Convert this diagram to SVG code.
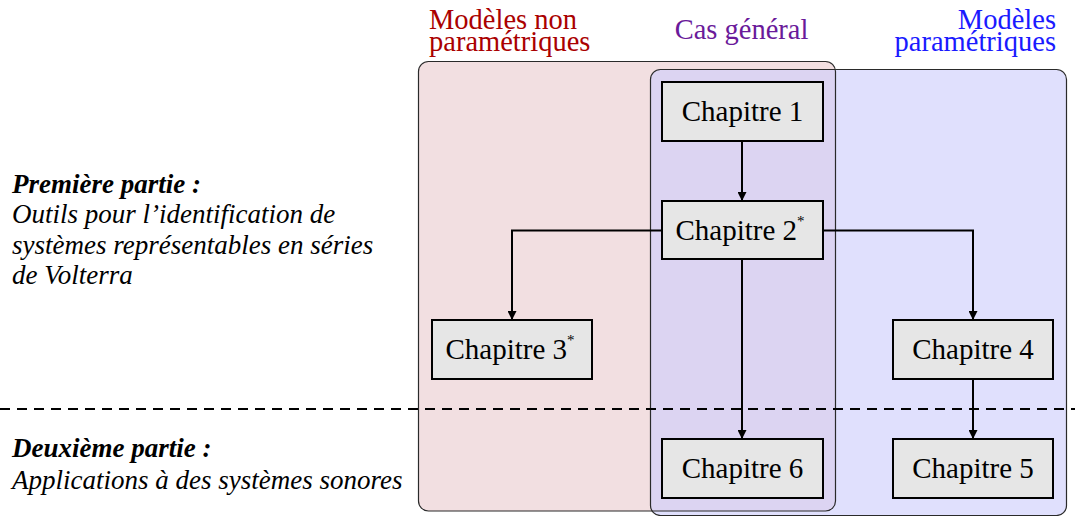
<svg xmlns="http://www.w3.org/2000/svg" width="1075" height="516" viewBox="0 0 1075 516">
<style>
.node rect{fill:#e6e6e6;stroke:#000;stroke-width:2}
.node text{font-family:"Liberation Serif","Times New Roman",serif;font-size:29px;fill:#000;text-anchor:middle}
.sup{font-size:15px}
.conn path{fill:none;stroke:#000;stroke-width:2}
.side{font-family:"Liberation Serif","Times New Roman",serif;font-size:27px;font-style:italic;fill:#000}
.hdr{font-family:"Liberation Serif","Times New Roman",serif;font-size:28.5px}
.border{fill:none;stroke:#2a2a2a;stroke-width:1.2}
</style>
<defs>
<marker id="arr" viewBox="0 0 10 10" refX="10" refY="5" markerWidth="10" markerHeight="9" markerUnits="userSpaceOnUse" orient="auto">
<path d="M0,0 L10,5 L0,10 z" fill="#000"/>
</marker>
<clipPath id="redclip"><rect x="418.5" y="61.5" width="417" height="449.5" rx="10"/></clipPath>
</defs>
<rect width="1075" height="516" fill="#fff"/>
<g id="regions">
<rect x="418.5" y="61.5" width="417" height="449.5" rx="10" fill="#f2dfe1"/>
<rect x="650.5" y="69.5" width="416" height="446" rx="10" fill="#e0e0fd"/>
<rect x="650.5" y="69.5" width="416" height="446" rx="10" fill="#dcd4f2" clip-path="url(#redclip)"/>
<rect class="border" x="418.5" y="61.5" width="417" height="449.5" rx="10"/>
<rect class="border" x="650.5" y="69.5" width="416" height="446" rx="10"/>
</g>
<g id="headers">
<text class="hdr" fill="#aa0000"><tspan x="429" y="29">Modèles non</tspan><tspan x="429" y="51">paramétriques</tspan></text>
<text class="hdr" fill="#6a1a9a" x="741.5" y="39" text-anchor="middle">Cas général</text>
<text class="hdr" fill="#1a1aff" text-anchor="end"><tspan x="1056" y="29">Modèles</tspan><tspan x="1056" y="51">paramétriques</tspan></text>
</g>
<g id="labels">
<text class="side" x="12" y="193" font-weight="bold">Première partie :</text>
<text class="side" x="12" y="223">Outils pour l’identification de</text>
<text class="side" x="12" y="254">systèmes représentables en séries</text>
<text class="side" x="12" y="284">de Volterra</text>
<text class="side" x="12" y="457" font-weight="bold">Deuxième partie :</text>
<text class="side" x="12" y="489">Applications à des systèmes sonores</text>
</g>
<line id="separator" x1="0" y1="409" x2="1075" y2="409" stroke="#000" stroke-width="2" stroke-dasharray="10,7"/>
<g class="conn" id="connectors">
<path d="M742,141 L742,201" marker-end="url(#arr)"/>
<path d="M742,259 L742,439" marker-end="url(#arr)"/>
<path d="M662,230.5 L512,230.5 L512,320" marker-end="url(#arr)"/>
<path d="M823,230.5 L973,230.5 L973,320" marker-end="url(#arr)"/>
<path d="M973,379 L973,439" marker-end="url(#arr)"/>
</g>
<g class="node" id="ch1"><rect x="662" y="82" width="161" height="59"/><text x="742.5" y="121">Chapitre 1</text></g>
<g class="node" id="ch2"><rect x="662" y="201" width="161" height="58"/><text x="740" y="240">Chapitre 2<tspan class="sup" dy="-14">*</tspan></text></g>
<g class="node" id="ch3"><rect x="432" y="320" width="160" height="59"/><text x="510" y="359">Chapitre 3<tspan class="sup" dy="-14">*</tspan></text></g>
<g class="node" id="ch4"><rect x="893" y="320" width="160" height="59"/><text x="973" y="359">Chapitre 4</text></g>
<g class="node" id="ch6"><rect x="662" y="439" width="161" height="59"/><text x="742.5" y="478">Chapitre 6</text></g>
<g class="node" id="ch5"><rect x="893" y="439" width="160" height="59"/><text x="973" y="478">Chapitre 5</text></g>
</svg>
